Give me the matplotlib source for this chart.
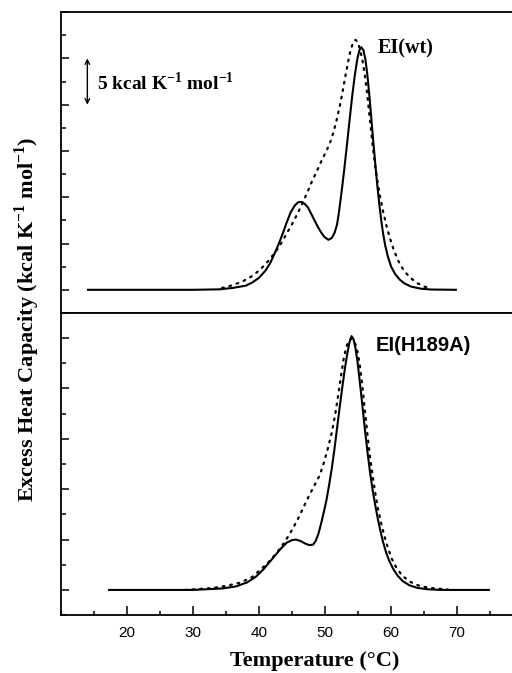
import numpy as np
import matplotlib
matplotlib.use('Agg')
import matplotlib.pyplot as plt
from matplotlib.ticker import MultipleLocator

# ===================== DATA ================================================ #
# EI(wt): solid and dotted traces
wt_solid_T = [14.1, 30.0, 34.0, 36.0, 38.0, 39.0, 40.0, 41.0, 41.7, 42.4, 43.0,
              43.6, 44.2, 44.8, 45.4, 45.9, 46.4, 46.9, 47.4, 47.9, 48.4, 48.9,
              49.4, 49.9, 50.5, 51.0, 51.4, 51.8, 52.1, 52.5, 52.9, 53.3, 53.7,
              54.1, 54.5, 54.9, 55.2, 55.5, 55.8, 56.1, 56.4, 56.7, 57.0, 57.3,
              57.6, 57.9, 58.2, 58.5, 58.8, 59.1, 59.5, 60.0, 60.6, 61.3, 62.0,
              63.0, 64.5, 66.0, 69.8]
wt_solid_cp = [0.0, 0.0, 0.05, 0.2, 0.45, 0.8, 1.3, 2.1, 2.9, 4.0, 5.0,
               6.1, 7.3, 8.4, 9.1, 9.45, 9.5, 9.3, 8.9, 8.2, 7.5, 6.8,
               6.2, 5.7, 5.4, 5.6, 6.1, 7.0, 8.4, 10.6, 13.0, 15.6, 18.3,
               20.9, 23.2, 25.0, 25.9, 26.2, 25.9, 24.9, 23.2, 21.0, 18.5, 16.0,
               13.6, 11.3, 9.3, 7.5, 6.0, 4.8, 3.6, 2.5, 1.7, 1.1, 0.7,
               0.35, 0.12, 0.03, 0.0]
wt_dot_T = [34.4, 36.0, 37.5, 39.0, 40.2, 41.5, 42.7, 43.5, 44.2, 45.0, 45.8,
            46.6, 47.3, 48.0, 48.8, 49.5, 50.2, 50.8, 51.3, 51.8, 52.3, 52.7,
            53.1, 53.5, 53.9, 54.3, 54.6, 54.9, 55.2, 55.6, 56.0, 56.4, 56.8,
            57.2, 57.6, 58.0, 58.4, 58.8, 59.3, 59.8, 60.4, 61.1, 61.9, 62.9,
            64.0, 65.0, 65.8]
wt_dot_cp = [0.2, 0.5, 0.9, 1.5, 2.2, 3.2, 4.3, 5.2, 6.1, 7.1, 8.2,
             9.4, 10.5, 11.7, 12.9, 14.0, 15.0, 16.0, 17.1, 18.5, 20.1, 21.6,
             23.2, 24.7, 26.0, 26.8, 27.0, 26.8, 26.2, 25.0, 23.3, 21.0, 18.3,
             15.6, 13.3, 11.4, 9.8, 8.4, 6.9, 5.6, 4.3, 3.1, 2.1, 1.3,
             0.7, 0.35, 0.2]

# EI(H189A)
mut_solid_T = [17.3, 30.0, 34.5, 36.5, 38.2, 39.5, 40.6, 41.5, 42.4, 43.3, 44.2,
               45.0, 45.6, 46.3, 47.0, 47.6, 48.2, 48.6, 49.0, 49.4, 49.8, 50.2,
               50.6, 51.0, 51.4, 51.8, 52.2, 52.6, 53.0, 53.4, 53.7, 54.0, 54.3,
               54.6, 54.9, 55.2, 55.6, 56.0, 56.4, 56.8, 57.2, 57.6, 58.0, 58.4,
               58.8, 59.2, 59.7, 60.3, 61.0, 61.8, 62.8, 64.0, 65.5, 67.5, 74.8]
mut_solid_cp = [0.0, 0.0, 0.15, 0.35, 0.75, 1.3, 2.0, 2.7, 3.4, 4.1, 4.7,
                4.95, 5.0, 4.85, 4.6, 4.45, 4.5, 4.9, 5.6, 6.6, 7.7, 8.9,
                10.4, 12.0, 13.9, 16.0, 18.1, 20.1, 22.0, 23.6, 24.6, 25.2, 24.9,
                24.0, 22.7, 21.0, 18.6, 16.1, 13.8, 11.7, 9.9, 8.4, 7.0, 5.8,
                4.7, 3.8, 2.9, 2.1, 1.4, 0.85, 0.45, 0.2, 0.07, 0.0, 0.0]
mut_dot_T = [28.8, 31.0, 33.0, 35.0, 37.0, 38.8, 40.2, 41.5, 42.7, 43.6, 44.4,
             45.2, 46.0, 46.8, 47.6, 48.4, 49.2, 49.8, 50.4, 51.0, 51.5, 52.0,
             52.4, 52.8, 53.2, 53.6, 54.0, 54.4, 54.8, 55.2, 55.6, 56.0, 56.4,
             56.8, 57.2, 57.6, 58.0, 58.5, 59.0, 59.5, 60.1, 60.8, 61.7, 62.9,
             64.3, 65.9, 68.6]
mut_dot_cp = [0.0, 0.1, 0.2, 0.4, 0.7, 1.2, 2.0, 2.8, 3.7, 4.5, 5.3,
              6.2, 7.2, 8.3, 9.4, 10.4, 11.4, 12.6, 14.0, 15.6, 17.3, 19.4,
              21.2, 22.9, 24.1, 24.8, 24.95, 24.7, 24.0, 22.6, 20.5, 18.0, 15.5,
              13.2, 11.3, 9.6, 8.1, 6.6, 5.3, 4.2, 3.1, 2.2, 1.4, 0.8,
              0.4, 0.2, 0.05]

x_major = [20, 30, 40, 50, 60, 70]

# ============================ FIGURE ======================================= #
serif = 'Liberation Serif'
sans = 'Liberation Sans'
plt.rcParams['mathtext.fontset'] = 'custom'
plt.rcParams['mathtext.rm'] = 'Liberation Serif:bold'
plt.rcParams['mathtext.bf'] = 'Liberation Serif:bold'

fig = plt.figure(figsize=(5.12, 6.73), dpi=100)
ax1 = fig.add_axes([0.119, 0.535, 0.881, 0.447])
ax2 = fig.add_axes([0.119, 0.086, 0.881, 0.449])

dots = (0, (0.8, 2.6))
ax1.plot(wt_solid_T, wt_solid_cp, color='black', lw=1.5)
ax1.plot(wt_dot_T, wt_dot_cp, color='black', lw=1.6, linestyle=dots,
         dash_capstyle='round')
ax2.plot(mut_solid_T, mut_solid_cp, color='black', lw=1.5)
ax2.plot(mut_dot_T, mut_dot_cp, color='black', lw=1.6, linestyle=dots,
         dash_capstyle='round')

ax1.set_ylim(-2.5, 30)
ax2.set_ylim(-2.5, 27.5)
for ax in (ax1, ax2):
    ax.set_xlim(10, 78.3)
    ax.spines['right'].set_visible(False)
    for s in ax.spines.values():
        s.set_linewidth(1.3)
    ax.yaxis.set_major_locator(MultipleLocator(5))
    ax.yaxis.set_minor_locator(MultipleLocator(2.5))
    ax.tick_params(axis='y', which='major', direction='in', length=6, width=1.1,
                   labelleft=False)
    ax.tick_params(axis='y', which='minor', direction='in', length=3.5, width=1.1)

ax1.tick_params(axis='x', which='both', bottom=False, labelbottom=False)
ax2.set_xticks(x_major)
ax2.xaxis.set_minor_locator(MultipleLocator(5))
ax2.tick_params(axis='x', which='major', direction='in', length=6.5, width=1.1,
                pad=8, labelsize=11)
ax2.tick_params(axis='x', which='minor', direction='in', length=3, width=1.1)
for lab in ax2.get_xticklabels():
    lab.set_fontfamily(sans)

# labels
ax1.text(58.0, 26.1, 'EI(wt)', family=serif, weight='bold', fontsize=14.5,
         va='center', ha='left')
ax2.text(57.7, 24.3, 'EI(H189A)', family=sans, weight='bold', fontsize=14.5,
         va='center', ha='left')
ax1.annotate('', xy=(14.0, 25.0), xytext=(14.0, 20.0),
             arrowprops=dict(arrowstyle='<->', lw=1.0, color='black',
                             shrinkA=0, shrinkB=0, mutation_scale=8))
ax1.text(15.4, 22.4, r'5 kcal K$^{-1}$ mol$^{-1}$', family=serif, weight='bold',
         fontsize=14, va='center', ha='left')

fig.text(0.053, 0.525, r'Excess Heat Capacity (kcal K$^{-1}$ mol$^{-1}$)',
         family=serif, weight='bold', fontsize=16, rotation=90,
         ha='center', va='center')
fig.text(0.615, 0.018, 'Temperature (\u00b0C)', family=serif, weight='bold',
         fontsize=16, ha='center', va='center')

plt.savefig('out.png', dpi=100)
plt.close()
